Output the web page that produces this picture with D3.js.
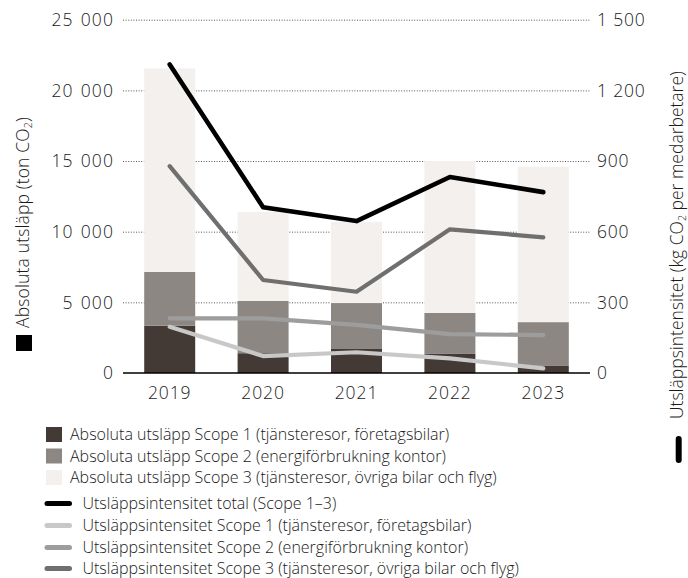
<!DOCTYPE html>
<html>
<head>
<meta charset="utf-8">
<script src="https://cdn.jsdelivr.net/npm/d3@7/dist/d3.min.js"></script>
<style>
  html, body { margin: 0; padding: 0; background: #ffffff; }
  svg { display: block; font-family: "Open Sans", "Noto Sans", sans-serif; font-weight: 300; }
</style>
</head>
<body>
<svg id="chart" width="688" height="578"></svg>
<script>
// Years on the x axis
const years = ["2019", "2020", "2021", "2022", "2023"];

// Absolute emissions (ton CO2), stacked bars
const scope1Abs = [3350, 1400, 1700, 1350, 500];
const scope2Abs = [3800, 3700, 3250, 2900, 3100];
const scope3Abs = [14400, 6300, 5750, 10750, 11000];

// Emission intensity (kg CO2 per employee), lines on the right axis
const intensityTotal = [1310, 704, 645, 832, 768];
const intensityScope1 = [196, 72, 88, 62, 20];
const intensityScope2 = [232, 232, 204, 165, 161];
const intensityScope3 = [878, 395, 345, 610, 576];

// Axis ticks
const leftTicks = [0, 5000, 10000, 15000, 20000, 25000];
const rightTicks = [0, 300, 600, 900, 1200, 1500];

const barLegend = [
  "Absoluta utsläpp Scope 1 (tjänsteresor, företagsbilar)",
  "Absoluta utsläpp Scope 2 (energiförbrukning kontor)",
  "Absoluta utsläpp Scope 3 (tjänsteresor, övriga bilar och flyg)"
];
const lineLegend = [
  "Utsläppsintensitet total (Scope 1–3)",
  "Utsläppsintensitet Scope 1 (tjänsteresor, företagsbilar)",
  "Utsläppsintensitet Scope 2 (energiförbrukning kontor)",
  "Utsläppsintensitet Scope 3 (tjänsteresor, övriga bilar och flyg)"
];

const barColors = ["#433a35", "#8c8783", "#f3f0ed"];
const lineColors = ["#000000", "#c8c8c8", "#9d9d9d", "#6f6f6f"];

const svg = d3.select("#chart");
const plot = { left: 123, right: 590, top: 19.7, bottom: 373 };
const textColor = "#1a1a1a";

const x = d3.scaleBand()
  .domain(years)
  .range([plot.left, plot.right])
  .paddingInner(0.454)
  .paddingOuter(0.227);

const yLeft = d3.scaleLinear().domain([0, 25000]).range([plot.bottom, plot.top]);
const yRight = d3.scaleLinear().domain([0, 1500]).range([plot.bottom, plot.top]);

// Thousands separated by a space
const fmtNum = v => d3.format(",")(v).replace(/,/g, " ");

// Dotted gridlines
svg.append("g")
  .selectAll("line")
  .data(leftTicks.filter(d => d > 0))
  .join("line")
  .attr("x1", plot.left)
  .attr("x2", plot.right)
  .attr("y1", d => yLeft(d) + 0.5)
  .attr("y2", d => yLeft(d) + 0.5)
  .attr("stroke", "#555")
  .attr("stroke-width", 1)
  .attr("stroke-dasharray", "1 1.6");

// Stacked bars
const rows = years.map((y, i) => ({ year: y, s1: scope1Abs[i], s2: scope2Abs[i], s3: scope3Abs[i] }));
const stacked = d3.stack().keys(["s1", "s2", "s3"])(rows);

svg.append("g")
  .selectAll("g")
  .data(stacked)
  .join("g")
  .attr("fill", (d, i) => barColors[i])
  .selectAll("rect")
  .data(d => d)
  .join("rect")
  .attr("x", d => x(d.data.year))
  .attr("width", x.bandwidth())
  .attr("y", d => yLeft(d[1]))
  .attr("height", d => yLeft(d[0]) - yLeft(d[1]));

// Baseline
svg.append("line")
  .attr("x1", plot.left).attr("x2", plot.right)
  .attr("y1", plot.bottom).attr("y2", plot.bottom)
  .attr("stroke", "#000").attr("stroke-width", 1.6);

// Intensity lines
const lineGen = d3.line()
  .x((d, i) => x(years[i]) + x.bandwidth() / 2)
  .y(d => yRight(d));

const lineSeries = [
  { values: intensityScope3, color: lineColors[3], width: 4.2 },
  { values: intensityScope2, color: lineColors[2], width: 4.2 },
  { values: intensityScope1, color: lineColors[1], width: 4.2 },
  { values: intensityTotal, color: lineColors[0], width: 4.6 }
];

svg.append("g")
  .selectAll("path")
  .data(lineSeries)
  .join("path")
  .attr("d", d => lineGen(d.values))
  .attr("fill", "none")
  .attr("stroke", d => d.color)
  .attr("stroke-width", d => d.width)
  .attr("stroke-linecap", "round")
  .attr("stroke-linejoin", "round");

// Left axis labels
svg.append("g")
  .selectAll("text")
  .data(leftTicks)
  .join("text")
  .attr("x", 114)
  .attr("y", d => yLeft(d))
  .attr("dy", "0.36em")
  .attr("text-anchor", "end")
  .attr("font-size", 17.5)
  .attr("letter-spacing", 1.1)
  .attr("word-spacing", 1.5)
  .attr("fill", textColor)
  .text(fmtNum);

// Right axis labels
svg.append("g")
  .selectAll("text")
  .data(rightTicks)
  .join("text")
  .attr("x", 597)
  .attr("y", d => yRight(d))
  .attr("dy", "0.36em")
  .attr("text-anchor", "start")
  .attr("font-size", 17.5)
  .attr("letter-spacing", 0.8)
  .attr("fill", textColor)
  .text(fmtNum);

// Year labels
svg.append("g")
  .selectAll("text")
  .data(years)
  .join("text")
  .attr("x", d => x(d) + x.bandwidth() / 2)
  .attr("y", 399)
  .attr("text-anchor", "middle")
  .attr("font-size", 17.5)
  .attr("letter-spacing", 0.9)
  .attr("fill", textColor)
  .text(d => d);

// Axis titles
const leftTitle = svg.append("text")
  .attr("transform", "translate(28.5,328) rotate(-90)")
  .attr("text-anchor", "start")
  .attr("font-size", 17.5)
  .attr("letter-spacing", 0.15)
  .attr("fill", textColor);
leftTitle.append("tspan").text("Absoluta utsläpp (ton CO");
leftTitle.append("tspan").attr("font-size", 10.5).attr("dy", 3).text("2");
leftTitle.append("tspan").attr("dy", -3).text(")");

svg.append("rect")
  .attr("x", 16).attr("y", 335).attr("width", 16).attr("height", 16)
  .attr("fill", "#000");

const rightTitle = svg.append("text")
  .attr("transform", "translate(683,419) rotate(-90)")
  .attr("text-anchor", "start")
  .attr("font-size", 17.5)
  .attr("fill", textColor);
rightTitle.append("tspan").text("Utsläppsintensitet (kg CO");
rightTitle.append("tspan").attr("font-size", 10.5).attr("dy", 3).text("2");
rightTitle.append("tspan").attr("dy", -3).text(" per medarbetare)");

svg.append("line")
  .attr("x1", 678.7).attr("x2", 678.7)
  .attr("y1", 439).attr("y2", 460)
  .attr("stroke", "#000").attr("stroke-width", 6)
  .attr("stroke-linecap", "round");

// Legend: bars
const barLegendRows = [434.5, 456, 477.5];
const lg1 = svg.append("g")
  .selectAll("g")
  .data(barLegend)
  .join("g")
  .attr("transform", (d, i) => `translate(0,${barLegendRows[i]})`);
lg1.append("rect")
  .attr("x", 46).attr("y", -7.5).attr("width", 16).attr("height", 15)
  .attr("fill", (d, i) => barColors[i]);
lg1.append("text")
  .attr("x", 70).attr("dy", "0.36em")
  .attr("font-size", 16)
  .attr("fill", textColor)
  .text(d => d);

// Legend: lines
const lineLegendRows = [503.5, 525.5, 547.5, 568.5];
const lg2 = svg.append("g")
  .selectAll("g")
  .data(lineLegend)
  .join("g")
  .attr("transform", (d, i) => `translate(0,${lineLegendRows[i]})`);
lg2.append("line")
  .attr("x1", 47).attr("x2", 69.5)
  .attr("stroke", (d, i) => lineColors[i])
  .attr("stroke-width", 5)
  .attr("stroke-linecap", "round");
lg2.append("text")
  .attr("x", 82.5).attr("dy", "0.36em")
  .attr("font-size", 16)
  .attr("fill", textColor)
  .text(d => d);
</script>
</body>
</html>
